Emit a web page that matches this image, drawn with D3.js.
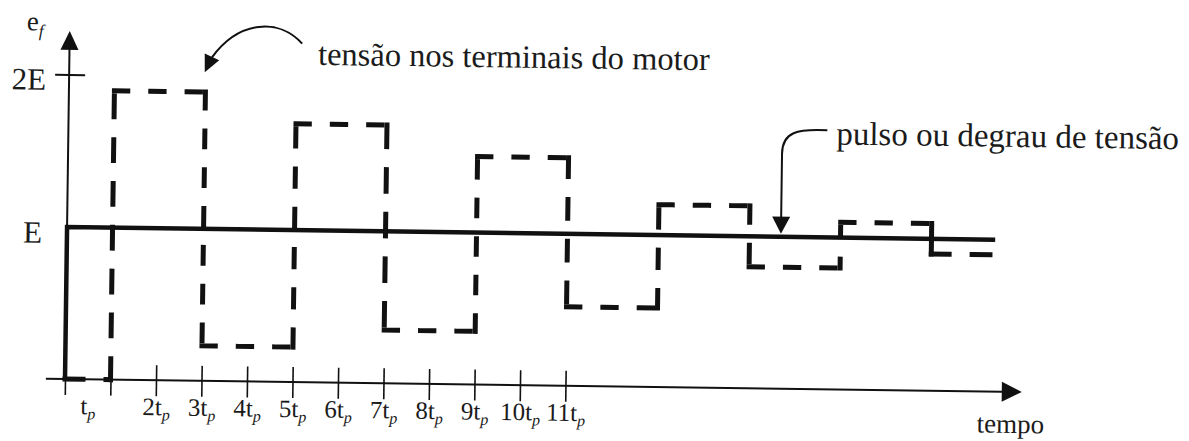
<!DOCTYPE html>
<html>
<head>
<meta charset="utf-8">
<script src="https://cdn.jsdelivr.net/npm/d3@7"></script>
<style>
  html, body { margin: 0; padding: 0; background: #fff; }
  svg { display: block; }
</style>
</head>
<body>
<svg id="chart" width="1189" height="441"></svg>
<script>
// Instants (multiples of tp) at which the motor terminal voltage changes level
const switchTimes = [0, 1, 3, 5, 7, 9, 11, 13, 15, 17, 19];
// Terminal voltage held after each instant, in units of E
const terminalLevels = [0, 1.9, 0.23, 1.7, 0.35, 1.5, 0.52, 1.2, 0.8, 1.1, 0.9];
const endTime = 20.4;

// Applied voltage step (pulse): 0 before t = 0, E afterwards
const stepTimes = [0, 20.4];
const stepLevels = [0, 1];

// Axis ticks
const xTickValues = [0, 1, 2, 3, 4, 5, 6, 7, 8, 9, 10, 11];
const xTickLabels = ["", "t_p", "2t_p", "3t_p", "4t_p", "5t_p", "6t_p", "7t_p", "8t_p", "9t_p", "10t_p", "11t_p"];
const yTickValues = [1, 2];
const yTickLabels = ["E", "2E"];

const FONT = "'Liberation Serif', 'Times New Roman', Times, serif";
const svg = d3.select("#chart");
const ink = "#111";

const x = d3.scaleLinear().domain([0, 21]).range([65, 65 + 21 * 45.5]);
const y = d3.scaleLinear().domain([0, 2]).range([379, 75]);

// the whole drawing sits slightly tilted
const g = svg.append("g")
  .attr("transform", `rotate(0.78, ${x(0)}, ${y(0)})`);

function label(sel, px, py, size, str) {
  return sel.append("text")
    .attr("x", px).attr("y", py)
    .attr("fill", "#1b1b1b")
    .style("font-family", FONT)
    .style("font-size", size + "px")
    .text(str);
}

function arrowHead(sel, tip, from, len, half) {
  const dx = tip[0] - from[0], dy = tip[1] - from[1];
  const l = Math.hypot(dx, dy), ux = dx / l, uy = dy / l;
  const bx = tip[0] - ux * len, by = tip[1] - uy * len;
  const p = d3.path();
  p.moveTo(tip[0], tip[1]);
  p.lineTo(bx - uy * half, by + ux * half);
  p.lineTo(bx + uy * half, by - ux * half);
  p.closePath();
  sel.append("path").attr("d", p.toString()).attr("fill", ink);
}

// ---- horizontal axis (tempo)
g.append("line")
  .attr("x1", x(-0.42)).attr("x2", x(20.6))
  .attr("y1", y(0)).attr("y2", y(0))
  .attr("stroke", ink).attr("stroke-width", 2);
arrowHead(g, [x(21.03), y(0)], [x(20), y(0)], 20, 10);

const xAxisG = g.append("g")
  .attr("transform", `translate(0,${y(0)})`)
  .call(d3.axisBottom(x).tickValues(xTickValues).tickSizeInner(16).tickSizeOuter(0));
xAxisG.select(".domain").remove();
xAxisG.selectAll(".tick line")
  .attr("y1", -15).attr("y2", 16)
  .attr("stroke", ink).attr("stroke-width", 1.6);
xAxisG.selectAll(".tick text").each(function (d, i) {
  const parts = xTickLabels[i].split("_");
  const t = d3.select(this)
    .text(null)
    .attr("y", 35).attr("dy", null)
    .attr("dx", d === 1 ? -(x(1) - x(0.5)) : 0)
    .attr("fill", "#1b1b1b")
    .style("font-family", FONT)
    .style("font-size", "25px");
  if (parts[0] === "") return;
  t.append("tspan").text(parts[0]);
  t.append("tspan").attr("dy", 5).style("font-size", "16px").style("font-style", "italic").text(parts[1]);
});

label(g, x(20.05), y(0) + 41, 27, "tempo");

// ---- vertical axis (e_f)
g.append("line")
  .attr("x1", x(0)).attr("x2", x(0))
  .attr("y1", y(0)).attr("y2", y(2.2))
  .attr("stroke", ink).attr("stroke-width", 2);
arrowHead(g, [x(0), y(2.29)], [x(0), y(2)], 19, 9);

yTickValues.forEach((v, i) => {
  if (v !== stepLevels[1]) {
    g.append("line")
      .attr("x1", x(0) - 14).attr("x2", x(0) + 16)
      .attr("y1", y(v)).attr("y2", y(v))
      .attr("stroke", ink).attr("stroke-width", 2);
  }
  label(g, x(0) - (v === 2 ? 23 : 25), y(v) + (v === 2 ? 15 : 16), 31, yTickLabels[i])
    .attr("text-anchor", "end");
});

const ef = label(g, x(0) - 43, y(2.29), 27, null);
ef.append("tspan").text("e");
ef.append("tspan").attr("dy", 6).style("font-size", "17px").style("font-style", "italic").text("f");

// ---- applied voltage step (solid)
const stepLine = d3.line()
  .x(d => x(d[0])).y(d => y(d[1]))
  .curve(d3.curveStepBefore);
g.append("path")
  .attr("d", stepLine(d3.zip(stepTimes, stepLevels)))
  .attr("fill", "none").attr("stroke", ink)
  .attr("stroke-width", 4.5).attr("stroke-linejoin", "miter");

// ---- voltage at the motor terminals (dashed, each side dashed on its own)
const W = 5, DASH = 23, GAP = 18;
function dashFor(len, fit) {
  if (!fit) return `${DASH - W} ${GAP + W}`;
  const n = Math.max(1, Math.round((len + GAP) / (DASH + GAP)));
  if (n === 1) return null;
  const d = (len - (n - 1) * GAP) / n;
  return `${Math.max(d - W, 0.5)} ${GAP + W}`;
}
const segments = [];
switchTimes.forEach((t0, i) => {
  const t1 = i + 1 < switchTimes.length ? switchTimes[i + 1] : endTime;
  const v = terminalLevels[i];
  segments.push({ x1: x(t0), y1: y(v), x2: x(t1), y2: y(v), fit: v !== 0 });
  if (i + 1 < switchTimes.length) {
    segments.push({ x1: x(t1), y1: y(v), x2: x(t1), y2: y(terminalLevels[i + 1]), fit: true });
  }
});
g.append("g").selectAll("line").data(segments).join("line")
  .attr("x1", d => d.x1).attr("y1", d => d.y1)
  .attr("x2", d => d.x2).attr("y2", d => d.y2)
  .attr("stroke", ink).attr("stroke-width", W)
  .attr("stroke-linecap", "square")
  .attr("stroke-dasharray", d => dashFor(Math.hypot(d.x2 - d.x1, d.y2 - d.y1), d.fit));

// ---- annotations
const tip1 = [x(2.98), y(2.03)];
const tail1 = [tip1[0] + 97, tip1[1] - 30];
const end1 = [tip1[0] + 7, tip1[1] - 15];
const p1 = d3.path();
p1.moveTo(tail1[0], tail1[1]);
p1.bezierCurveTo(tail1[0] - 23, tail1[1] - 25, tip1[0] + 34, tip1[1] - 53, end1[0], end1[1]);
g.append("path").attr("d", p1.toString()).attr("fill", "none").attr("stroke", ink).attr("stroke-width", 2);
arrowHead(g, tip1, [tip1[0] + 9, tip1[1] - 20], 17, 8);
label(g, tip1[0] + 113, tip1[1] - 9, 32.5, "tensão nos terminais do motor");

const tip2 = [x(15.69), y(1) - 3];
const tail2 = [tip2[0] + 45, tip2[1] - 104];
const p2 = d3.path();
p2.moveTo(tail2[0], tail2[1]);
p2.bezierCurveTo(tip2[0] + 15, tail2[1] - 1, tip2[0], tail2[1] + 2, tip2[0], tail2[1] + 24);
p2.lineTo(tip2[0], tip2[1] - 15);
g.append("path").attr("d", p2.toString()).attr("fill", "none").attr("stroke", ink).attr("stroke-width", 2);
arrowHead(g, tip2, [tip2[0], tip2[1] - 30], 17, 9);
label(g, tip2[0] + 54, tip2[1] - 90, 33, "pulso ou degrau de tensão");
</script>
</body>
</html>
